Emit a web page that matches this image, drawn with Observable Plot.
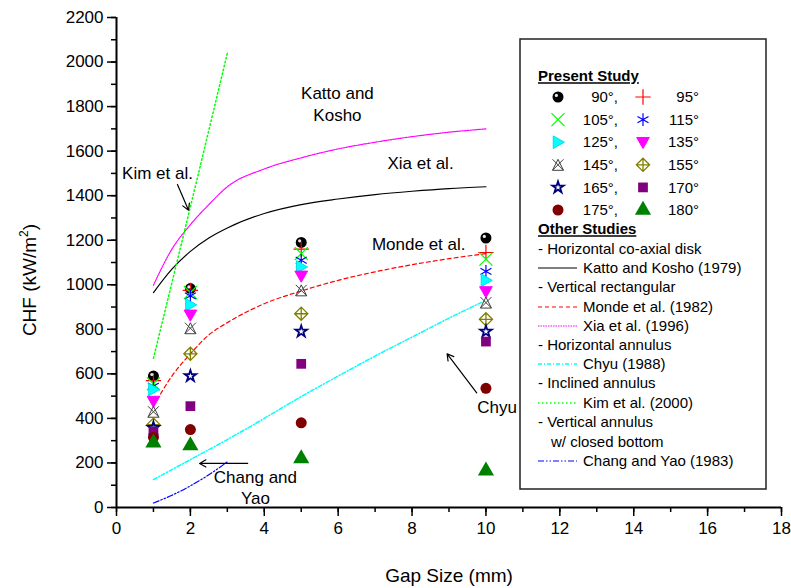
<!DOCTYPE html>
<html><head><meta charset="utf-8">
<script src="https://cdn.jsdelivr.net/npm/d3@7"></script>
<script src="https://cdn.jsdelivr.net/npm/@observablehq/plot@0.6"></script>
<style>body{margin:0;background:#fff;font-family:"Liberation Sans",Arial,sans-serif}</style>
</head><body><div id="chart"></div>
<script>
// ---------- data ----------
const gaps = [1, 2, 5, 10];
const angles = [90, 95, 105, 115, 125, 135, 145, 155, 165, 170, 175, 180];
const chf90  = [590, 983, 1190, 1210];
const chf95  = [570, 975, 1160, 1145];
const chf105 = [555, 965, 1140, 1115];
const chf115 = [545, 950, 1110, 1060];
const chf125 = [530, 910, 1080, 1020];
const chf135 = [478, 865, 1040, 970];
const chf145 = [430, 805, 975, 920];
const chf155 = [372, 690, 870, 845];
const chf165 = [358, 590, 790, 790];
const chf170 = [340, 455, 645, 745];
const chf175 = [315, 350, 380, 535];
const chf180 = [290, 278, 220, 165];
const chfByAngle = [chf90, chf95, chf105, chf115, chf125, chf135, chf145, chf155, chf165, chf170, chf175, chf180];

const corrGap   = [1, 1.5, 2, 2.5, 3, 4, 5, 6, 7, 8, 9, 10];
const kattoChf  = [965, 1070, 1150, 1210, 1255, 1320, 1360, 1385, 1405, 1420, 1432, 1440];
const xiaChf    = [998, 1160, 1270, 1360, 1440, 1520, 1570, 1610, 1640, 1665, 1685, 1700];
const mondeChf  = [455, 590, 690, 775, 830, 915, 972, 1020, 1058, 1090, 1117, 1140];
const chyuGap   = [1, 2, 3, 4, 5, 6, 7, 8, 9, 10];
const chyuChf   = [125, 215, 305, 400, 498, 590, 680, 765, 850, 930];
const kimGap    = [1, 2, 3];
const kimChf    = [670, 1350, 2040];
const changGap  = [1, 1.5, 2, 2.5, 3];
const changChf  = [20, 55, 97, 147, 205];

const xTicks = [0, 2, 4, 6, 8, 10, 12, 14, 16, 18];
const yTicks = [0, 200, 400, 600, 800, 1000, 1200, 1400, 1600, 1800, 2000, 2200];

const annotations = [
  {gap: 5.98, chf: 1815, text: "Katto and\nKosho"},
  {gap: 8.23, chf: 1549, text: "Xia et al."},
  {gap: 1.11, chf: 1504, text: "Kim et al."},
  {gap: 8.18, chf: 1185, text: "Monde et al."},
  {gap: 10.3, chf: 455, text: "Chyu"},
  {gap: 3.76, chf: 92, text: "Chang and\nYao"}
];
const arrows = [
  {g1: 1.65, c1: 1450, g2: 1.95, c2: 1335},
  {g1: 9.75, c1: 515, g2: 8.95, c2: 690},
  {g1: 3.55, c1: 198, g2: 2.25, c2: 198}
];

// ---------- symbols & styles ----------
const rOf = s => Math.sqrt(s / Math.PI);
const triRight = {draw(c, s){ const r = rOf(s)*1.15; c.moveTo(-r*0.75,-r); c.lineTo(r,0); c.lineTo(-r*0.75,r); c.closePath(); }};
const triDown = {draw(c, s){ const r = rOf(s)*1.15; c.moveTo(-r,-r*0.75); c.lineTo(r,-r*0.75); c.lineTo(0,r); c.closePath(); }};
const xTri = {draw(c, s){ const r = rOf(s); c.moveTo(-r,-r); c.lineTo(r,r); c.moveTo(r,-r); c.lineTo(-r,r);
  c.moveTo(0,-r); c.lineTo(r,r); c.lineTo(-r,r); c.closePath(); }};
const diamondPlus = {draw(c, s){ const r = rOf(s)*1.1; c.moveTo(0,-r); c.lineTo(r,0); c.lineTo(0,r); c.lineTo(-r,0); c.closePath();
  c.moveTo(0,-r); c.lineTo(0,r); c.moveTo(-r,0); c.lineTo(r,0); }};

const styles = {
  90:  {symbol: d3.symbolCircle, fill: "#000", stroke: "none", r: 5.5},
  95:  {symbol: d3.symbolPlus, fill: "none", stroke: "#ff0000", r: 5, sw: 1.2},
  105: {symbol: d3.symbolTimes, fill: "none", stroke: "#00ff00", r: 6, sw: 1.2},
  115: {symbol: d3.symbolAsterisk, fill: "none", stroke: "#0000ff", r: 6, sw: 1.2},
  125: {symbol: triRight, fill: "#00ffff", stroke: "#00e0e0", r: 5.5, sw: 1},
  135: {symbol: triDown, fill: "#ff00ff", stroke: "#ff00ff", r: 5.5, sw: 1},
  145: {symbol: xTri, fill: "none", stroke: "#404040", r: 5.5, sw: 1},
  155: {symbol: diamondPlus, fill: "none", stroke: "#808000", r: 6, sw: 1.3},
  165: {symbol: d3.symbolStar, fill: "none", stroke: "#000080", r: 3.6, sw: 1.8},
  170: {symbol: d3.symbolSquare, fill: "#800080", stroke: "none", r: 5.5},
  175: {symbol: d3.symbolCircle, fill: "#800000", stroke: "none", r: 5.5},
  180: {symbol: d3.symbolTriangle, fill: "#008000", stroke: "none", r: 6}
};

const lineStyles = {
  katto: {stroke: "#000", dash: null, sw: 1.2},
  monde: {stroke: "#ff0000", dash: "4,3", sw: 1.2},
  xia:   {stroke: "#ff00ff", dash: "1.5,1", sw: 1.2},
  chyu:  {stroke: "#00ffff", dash: "4,2,1,2", sw: 1.5},
  kim:   {stroke: "#00ff00", dash: "1.5,2.5", sw: 1.5},
  chang: {stroke: "#0000ff", dash: "6,2,1.5,2,1.5,2", sw: 1.2}
};

// ---------- tables ----------
const points = [];
angles.forEach((a, i) => gaps.forEach((g, j) => points.push({angle: a, gap: g, chf: chfByAngle[i][j]})));
const toRows = (xs, ys) => xs.map((x, i) => ({gap: x, chf: ys[i]}));
const curves = {
  katto: toRows(corrGap, kattoChf), xia: toRows(corrGap, xiaChf), monde: toRows(corrGap, mondeChf),
  chyu: toRows(chyuGap, chyuChf), kim: toRows(kimGap, kimChf), chang: toRows(changGap, changChf)
};

const lineMark = key => Plot.line(curves[key], {x: "gap", y: "chf", curve: "monotone-x",
  stroke: lineStyles[key].stroke, strokeWidth: lineStyles[key].sw, strokeDasharray: lineStyles[key].dash});

const dotMarks = angles.map(a => {
  const st = styles[a];
  return Plot.dot(points.filter(d => d.angle === a), {x: "gap", y: "chf", symbol: st.symbol, r: st.r,
    fill: st.fill, stroke: st.stroke, strokeWidth: st.sw || 1});
});

const font = "'Liberation Sans', Arial, sans-serif";
const chart = Plot.plot({
  width: 791, height: 588,
  marginLeft: 116, marginRight: 10, marginTop: 17, marginBottom: 81,
  x: {domain: [0, 18]},
  y: {domain: [0, 2200]},
  style: {fontFamily: font, background: "white", color: "black"},
  marks: [
    lineMark("katto"), lineMark("xia"), lineMark("monde"), lineMark("chyu"), lineMark("kim"), lineMark("chang"),
    ...dotMarks,
    Plot.dot(points.filter(d => d.angle === 90), {x: "gap", y: "chf", r: 1.6, fill: "#e8e8e8", dx: -1.6, dy: -1.6}),
    Plot.text(annotations, {x: "gap", y: "chf", text: "text", fontSize: 17, lineHeight: 1.25, fill: "black"}),
    Plot.arrow(arrows, {x1: "g1", y1: "c1", x2: "g2", y2: "c2", stroke: "black", strokeWidth: 1.2, headLength: 9}),
    Plot.axisX({ticks: d3.range(0, 19, 1), tickSize: 5, tickFormat: () => "", label: null, strokeWidth: 1.5}),
    Plot.axisX({ticks: xTicks, tickSize: 9, tickPadding: 5, fontSize: 17, tickFormat: d => String(d), label: null, strokeWidth: 1.5}),
    Plot.axisY({ticks: d3.range(0, 2201, 100), tickSize: 5, tickFormat: () => "", label: null, strokeWidth: 1.5}),
    Plot.axisY({ticks: yTicks, tickSize: 9, tickPadding: 4, fontSize: 17, tickFormat: d => String(d), label: null, strokeWidth: 1.5}),
    Plot.ruleX([0], {strokeWidth: 2}),
    Plot.ruleY([0], {strokeWidth: 2})
  ]
});
document.getElementById("chart").appendChild(chart);

// ---------- axis titles ----------
const svg = d3.select(chart);
svg.append("text").attr("x", 449).attr("y", 582).attr("text-anchor", "middle")
  .attr("font-family", font).attr("font-size", 19).attr("fill", "black").text("Gap Size (mm)");
const yt = svg.append("text").attr("transform", "translate(36,280) rotate(-90)").attr("text-anchor", "middle")
  .attr("font-family", font).attr("font-size", 19).attr("fill", "black");
yt.append("tspan").text("CHF (kW/m");
yt.append("tspan").attr("font-size", 12).attr("dy", -8).text("2");
yt.append("tspan").attr("dy", 8).text(")");

// ---------- legend ----------
const lg = svg.append("g").attr("font-family", font).attr("font-size", 15).attr("fill", "black").attr("text-anchor", "start");
lg.append("rect").attr("x", 520).attr("y", 39).attr("width", 246).attr("height", 450)
  .attr("fill", "white").attr("stroke", "#222").attr("stroke-width", 1.5);
const label = (x, y, t, opts = {}) => {
  const e = lg.append("text").attr("x", x).attr("y", y).attr("dy", "0.35em").attr("text-anchor", opts.anchor || "start").text(t);
  if (opts.bold) e.attr("font-weight", "bold").attr("text-decoration", "underline");
  return e;
};
label(538, 76, "Present Study", {bold: true});
angles.forEach((a, i) => {
  const col = i % 2, row = Math.floor(i / 2);
  const y = 97 + row * 22.6;
  const mx = col ? 643 : 558;
  const st = styles[a];
  lg.append("path").attr("transform", `translate(${mx},${y})`)
    .attr("d", d3.symbol(st.symbol, st.r * st.r * Math.PI)())
    .attr("fill", st.fill).attr("stroke", st.stroke).attr("stroke-width", st.sw || 1);
  if (a === 90) lg.append("circle").attr("cx", mx - 1.6).attr("cy", y - 1.6).attr("r", 1.6).attr("fill", "#e8e8e8");
  label(col ? 699 : 618, y, a + "°" + (col ? "" : ","), {anchor: "end"});
});
label(538, 229, "Other Studies", {bold: true});
const rows = [
  {y: 249, t: "- Horizontal co-axial disk"},
  {y: 268, t: "Katto and Kosho (1979)", line: "katto"},
  {y: 287, t: "- Vertical rectangular"},
  {y: 307, t: "Monde et al. (1982)", line: "monde"},
  {y: 326, t: "Xia et al. (1996)", line: "xia"},
  {y: 345, t: "- Horizontal annulus"},
  {y: 364, t: "Chyu (1988)", line: "chyu"},
  {y: 383, t: "- Inclined annulus"},
  {y: 403, t: "Kim et al. (2000)", line: "kim"},
  {y: 422, t: "- Vertical annulus"},
  {y: 442, t: "w/ closed bottom", x: 551},
  {y: 461, t: "Chang and Yao (1983)", line: "chang"}
];
rows.forEach(r => {
  if (r.line) {
    const ls = lineStyles[r.line];
    lg.append("line").attr("x1", 538).attr("x2", 577).attr("y1", r.y).attr("y2", r.y)
      .attr("stroke", ls.stroke).attr("stroke-width", ls.sw).attr("stroke-dasharray", ls.dash);
    label(583, r.y, r.t);
  } else label(r.x || 538, r.y, r.t);
});
</script>
</body></html>
